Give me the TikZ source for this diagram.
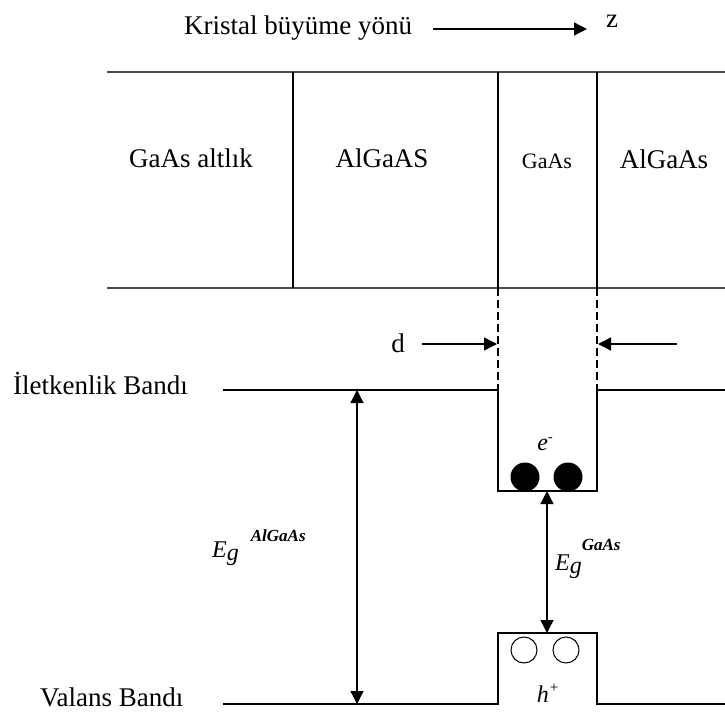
\documentclass[tikz,border=0pt]{standalone}
\usepackage{fontspec}
\setmainfont{Liberation Serif}
\usetikzlibrary{arrows.meta}
\begin{document}
\begin{tikzpicture}[x=1pt,y=-1pt,
  txt/.style={font=\fontsize{27}{30}\selectfont, inner sep=0pt},
  smalltxt/.style={font=\fontsize{22}{26}\selectfont, inner sep=0pt},
  layerline/.style={line width=2.4pt, draw=black!70},
  wall/.style={line width=1.4pt},
  band/.style={line width=1.6pt},
  dashline/.style={line width=1.3pt, dash pattern=on 8pt off 4pt},
  arr/.style={line width=1.3pt, -{Triangle[length=13pt,width=13pt]}},
  dblarr/.style={line width=1.3pt, {Triangle[length=13pt,width=13pt]}-{Triangle[length=13pt,width=13pt]}},
  egfont/.style={font=\fontsize{24}{28}\selectfont\itshape, inner sep=0pt}
]
\useasboundingbox (0,0) rectangle (725,714);

% growth direction
\node[txt, anchor=base] (kristal) at (298,35) {Kristal büyüme yönü};
\coordinate (za) at (433,29);
\coordinate (zb) at (587,29);
\draw[arr] (za) -- (zb);
\node[txt, anchor=base] (z) at (612,28) {z};

% layer structure
\coordinate (tl) at (107,72);  \coordinate (tr) at (725,72);
\coordinate (bl) at (107,288); \coordinate (br) at (725,288);
\draw[layerline] (tl) -- (tr);
\draw[layerline] (bl) -- (br);
\coordinate (v1t) at (293,72); \coordinate (v1b) at (293,288);
\coordinate (v2t) at (498,72); \coordinate (v2b) at (498,288);
\coordinate (v3t) at (597,72); \coordinate (v3b) at (597,288);
\draw[wall] (v1t) -- (v1b);
\draw[wall] (v2t) -- (v2b);
\draw[wall] (v3t) -- (v3b);
\node[txt, anchor=base] (sub) at (191,168) {GaAs altlık};
\node[txt, anchor=base] (alg1) at (382,168) {AlGaAS};
\node[smalltxt, anchor=base] (gaas) at (547,169) {GaAs};
\node[txt, anchor=base] (alg2) at (664,169) {AlGaAs};

% dashed projections
\coordinate (cwl) at (498,390); \coordinate (cwr) at (597,390);
\draw[dashline] (v2b) -- (cwl);
\draw[dashline] (v3b) -- (cwr);

% d arrows
\node[txt, anchor=base] (d) at (398,352) {d};
\coordinate (da) at (422,344); \coordinate (db) at (497,344);
\coordinate (dc) at (677,344); \coordinate (dd) at (598,344);
\draw[arr] (da) -- (db);
\draw[arr] (dc) -- (dd);

% conduction band
\node[txt, anchor=base west] (cb) at (13,394) {İletkenlik Bandı};
\coordinate (cl) at (223,390);
\coordinate (cr) at (725,390);
\coordinate (wbl) at (498,491); \coordinate (wbr) at (597,491);
\draw[band] (cl) -- (cwl) -- (wbl) -- (wbr) -- (cwr) -- (cr);

% valence band
\node[txt, anchor=base west] (vb) at (40,706) {Valans Bandı};
\coordinate (vl) at (223,704);
\coordinate (vwl) at (498,704); \coordinate (vwr) at (597,704);
\coordinate (vtl) at (498,633); \coordinate (vtr) at (597,633);
\coordinate (vr) at (725,704);
\draw[band] (vl) -- (vwl) -- (vtl) -- (vtr) -- (vwr) -- (vr);

% band gap arrows
\coordinate (ega) at (357,390); \coordinate (egb) at (357,704);
\draw[dblarr] (ega) -- (egb);
\coordinate (gga) at (547,491); \coordinate (ggb) at (547,633);
\draw[dblarr] (gga) -- (ggb);

\node[egfont, anchor=base west] (egal) at (212,557) {E\raisebox{-3pt}{g}\hspace{12pt}\raisebox{16pt}{\fontsize{17}{20}\selectfont\bfseries AlGaAs}};
\node[egfont, anchor=base west] (eggaas) at (555,570) {E\raisebox{-3pt}{g}\raisebox{20pt}{\fontsize{17}{20}\selectfont\bfseries GaAs}};

% carriers
\node[egfont, anchor=base] (el) at (545,450) {e\raisebox{9pt}{\fontsize{14}{16}\selectfont -}};
\fill (525,477) circle (14.5) node[inner sep=0pt] (e1) {};
\fill (568,477) circle (14.5) node[inner sep=0pt] (e2) {};
\draw[line width=1pt] (524,650) circle (13) node[inner sep=0pt] (h1) {};
\draw[line width=1pt] (566,650) circle (13) node[inner sep=0pt] (h2) {};
\node[egfont, anchor=base] (ho) at (548,702) {h\raisebox{10pt}{\fontsize{15}{18}\selectfont +}};
\end{tikzpicture}
\end{document}
